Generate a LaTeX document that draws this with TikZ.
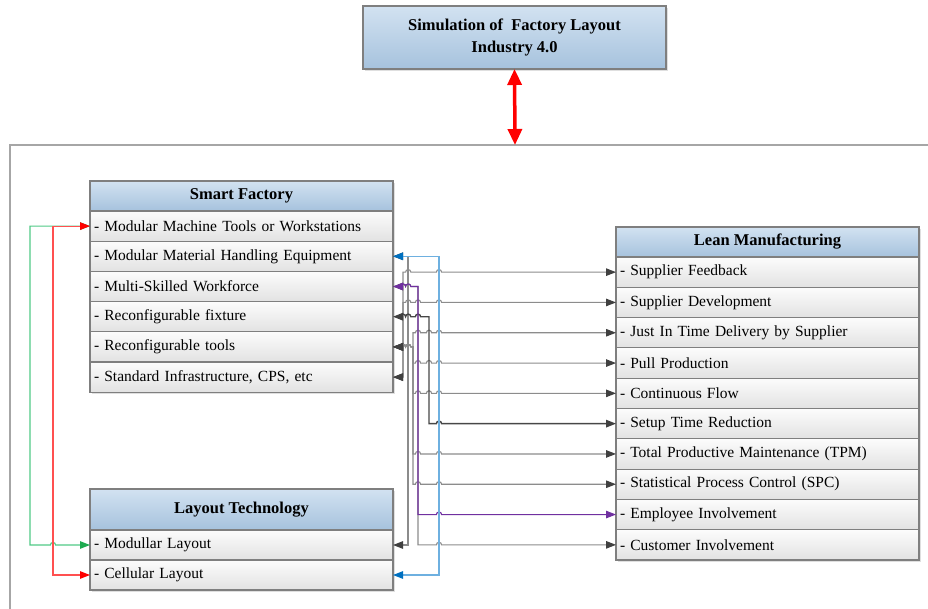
\documentclass[tikz,border=0pt]{standalone}
\usepackage{fontspec}
\setmainfont{Liberation Serif}
\usetikzlibrary{arrows.meta,shadows}
\definecolor{bord}{HTML}{7F7F7F}
\definecolor{hdtop}{HTML}{D2E2F1}
\definecolor{hdbot}{HTML}{A6C2DD}
\definecolor{rwtop}{HTML}{FCFCFC}
\definecolor{rwbot}{HTML}{E2E2E2}
\definecolor{glc}{HTML}{8C8C8C}
\definecolor{gtip}{HTML}{404040}
\definecolor{dkc}{HTML}{474747}
\definecolor{blc}{HTML}{6EB0E0}
\definecolor{btip}{HTML}{0070C0}
\definecolor{plc}{HTML}{7030A0}
\definecolor{rlc}{HTML}{FF5050}
\definecolor{rtip}{HTML}{FF0000}
\definecolor{gnc}{HTML}{50C985}
\definecolor{gntip}{HTML}{1EAA50}
\definecolor{framec}{HTML}{A6A6A6}
\tikzset{
  x=1pt,y=1pt,
  boxbase/.style={draw=bord, line width=1.1pt, outer sep=0pt,
    drop shadow={shadow xshift=2pt,shadow yshift=-2pt,opacity=0.25}},
  hdr/.style={boxbase, top color=hdtop, bottom color=hdbot, minimum width=303pt,
    minimum height=30pt, inner sep=0pt, align=center,
    font=\fontsize{16.5}{22}\selectfont\bfseries},
  rowbox/.style={boxbase, top color=rwtop, bottom color=rwbot, minimum width=303pt,
    minimum height=30.2pt, text width=295pt, inner xsep=4pt, inner ysep=0pt,
    align=left, font=\fontsize{15.5}{18}\selectfont},
  TG/.tip={Triangle[length=10pt,width=7.5pt,color=gtip]},
  TB/.tip={Triangle[length=10pt,width=7.5pt,color=btip]},
  TP/.tip={Triangle[length=10pt,width=7.5pt,color=plc]},
  TR/.tip={Triangle[length=10pt,width=7.5pt,color=rtip]},
  TGn/.tip={Triangle[length=10pt,width=7.5pt,color=gntip]},
  TBig/.tip={Triangle[length=16pt,width=14pt]},
  gl/.style={draw=glc, line width=1.1pt},
  dk/.style={draw=dkc, line width=1.4pt},
  bl/.style={draw=blc, line width=1.1pt},
  pl/.style={draw=plc, line width=1.1pt},
  rl/.style={draw=rlc, line width=1.1pt},
  gn/.style={draw=gnc, line width=1.1pt},
}
\newcommand{\hp}{arc[start angle=180,end angle=0,radius=2.6]}
\begin{document}
\begin{tikzpicture}
\useasboundingbox (0,0) rectangle (928,-609);

% frame
\draw[draw=framec, line width=1.2pt] (10,-609) -- (10,-145) -- (928,-145);
\coordinate (ftop) at (515,-145);

% top box
\node[hdr, minimum height=63pt, anchor=north west] (sim) at (363,-6)
  {Simulation of\ \ Factory Layout\\Industry 4.0};
\draw[draw=red, line width=3.5pt, TBig-TBig, red] (sim.south) -- (ftop);

% Smart Factory
\node[hdr, anchor=north west] (sfh) at (90,-181) {Smart Factory};
\node[rowbox, anchor=north] (s1) at (sfh.south) {- Modular Machine Tools or Workstations};
\node[rowbox, anchor=north] (s2) at (s1.south) {- Modular Material Handling Equipment};
\node[rowbox, anchor=north] (s3) at (s2.south) {- Multi-Skilled Workforce};
\node[rowbox, anchor=north] (s4) at (s3.south) {- Reconfigurable fixture};
\node[rowbox, anchor=north] (s5) at (s4.south) {- Reconfigurable tools};
\node[rowbox, anchor=north] (s6) at (s5.south) {- Standard Infrastructure, CPS, etc};

% Lean Manufacturing
\node[hdr, anchor=north west] (lmh) at (616,-227) {Lean Manufacturing};
\node[rowbox, minimum height=30.3pt, anchor=north] (l1) at (lmh.south) {- Supplier Feedback};
\node[rowbox, minimum height=30.3pt, anchor=north] (l2) at (l1.south) {- Supplier Development};
\node[rowbox, minimum height=30.3pt, anchor=north] (l3) at (l2.south) {- Just In Time Delivery by Supplier};
\node[rowbox, minimum height=30.3pt, anchor=north] (l4) at (l3.south) {- Pull Production};
\node[rowbox, minimum height=30.3pt, anchor=north] (l5) at (l4.south) {- Continuous Flow};
\node[rowbox, minimum height=30.3pt, anchor=north] (l6) at (l5.south) {- Setup Time Reduction};
\node[rowbox, minimum height=30.3pt, anchor=north] (l7) at (l6.south) {- Total Productive Maintenance (TPM)};
\node[rowbox, minimum height=30.3pt, anchor=north] (l8) at (l7.south) {- Statistical Process Control (SPC)};
\node[rowbox, minimum height=30.3pt, anchor=north] (l9) at (l8.south) {- Employee Involvement};
\node[rowbox, minimum height=30.3pt, anchor=north] (l10) at (l9.south) {- Customer Involvement};

% Layout Technology
\node[hdr, minimum height=41pt, anchor=north west] (lth) at (90,-489) {Layout Technology};
\node[rowbox, minimum height=30pt, anchor=north] (lm) at (lth.south) {- Modullar Layout};
\node[rowbox, minimum height=30pt, anchor=north] (lc) at (lm.south) {- Cellular Layout};

% routing columns
\coordinate (v30) at (30,0);  \coordinate (v53) at (53,0);  \coordinate (e53) at (50.4,0);
\coordinate (v403) at (403,0); \coordinate (e403) at (400.4,0);
\coordinate (v408) at (408,0); \coordinate (e408) at (405.6,0);
\coordinate (v413) at (413,0);
\coordinate (v418) at (418,0); \coordinate (e418) at (415.4,0);
\coordinate (v429) at (429,0); \coordinate (e429) at (426.4,0);
\coordinate (v439) at (439,0); \coordinate (e439) at (436.4,0);

% left side: green and red
\draw[gn, TGn-TGn] (s1.west) -- (s1.west -| v30) -- (lm.west -| v30) -- (lm.west -| e53) \hp -- (lm.west);
\draw[rl, TR-TR] (s1.west) -- (s1.west -| v53) -- (lc.west -| v53) -- (lc.west);

% gray: Modullar Layout <-> Modular Material Handling
\draw[gl, TG-TG] (lm.east) -- (lm.east -| v408) -- (s2.east -| v408) -- (s2.east);

% gray: Standard Infrastructure <-> Supplier Feedback / Development
\draw[gl, TG-TG] (s6.east) -- (s6.east -| v403) -- (l1.west -| v403) -- (l1.west -| e408) \hp
  -- (l1.west -| e439) \hp -- (l1.west);
\draw[gl, TG-TG] (s6.east) -- (s6.east -| v403) -- (l2.west -| v403) -- (l2.west -| e408) \hp
  -- (l2.west -| e418) \hp -- (l2.west -| e439) \hp -- (l2.west);

% gray: Reconfigurable tools <-> JIT, Pull, Continuous, TPM, SPC
\foreach \t in {l3,l4,l5}{
  \draw[gl, TG-TG] (s5.east) -- (s5.east -| e403) \hp -- (s5.east -| e408) \hp -- (s5.east -| v413)
    -- (\t.west -| v413) -- (\t.west -| e418) \hp -- (\t.west -| e429) \hp -- (\t.west -| e439) \hp -- (\t.west);
}
\foreach \t in {l7,l8}{
  \draw[gl, TG-TG] (s5.east) -- (s5.east -| e403) \hp -- (s5.east -| e408) \hp -- (s5.east -| v413)
    -- (\t.west -| v413) -- (\t.west -| e418) \hp -- (\t.west -| e439) \hp -- (\t.west);
}

% gray: Multi-Skilled Workforce <-> Customer Involvement
\draw[gl, TG-TG] (s3.east) -- (s3.east -| e403) \hp -- (s3.east -| e408) \hp -- (s3.east -| v418)
  -- (l10.west -| v418) -- (l10.west -| e439) \hp -- (l10.west);

% dark: Reconfigurable fixture <-> Setup Time Reduction
\draw[dk, TG-TG] (s4.east) -- (s4.east -| e403) \hp -- (s4.east -| e408) \hp -- (s4.east -| e418) \hp
  -- (s4.east -| v429) -- (l6.west -| v429) -- (l6.west -| e439) \hp -- (l6.west);

% purple: Multi-Skilled Workforce <-> Employee Involvement
\draw[pl, TP-TP] (s3.east) -- (s3.east -| e403) \hp -- (s3.east -| e408) \hp -- (s3.east -| v418)
  -- (l9.west -| v418) -- (l9.west -| e439) \hp -- (l9.west);

% blue: Modular Material Handling <-> Cellular Layout
\draw[bl, TB-TB] (s2.east) -- (s2.east -| v439) -- (lc.east -| v439) -- (lc.east);
\end{tikzpicture}
\end{document}
